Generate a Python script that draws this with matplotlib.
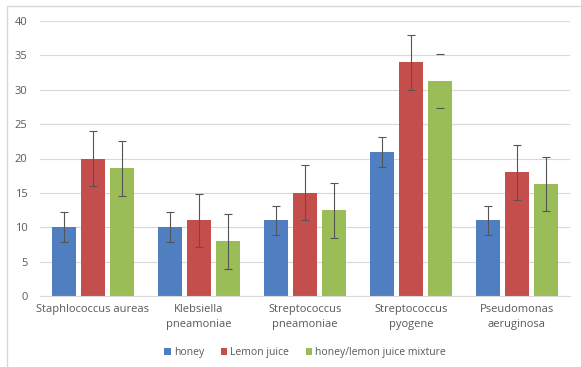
import matplotlib.pyplot as plt
import matplotlib.patches as mpatches
import numpy as np

# Données
bacteries = ['Staphlococcus aureas', 'Klebsiella\npneamoniae', 'Streptococcus\npneamoniae',
             'Streptococcus\npyogene', 'Pseudomonas\naeruginosa']
honey = [10, 10, 11, 21, 11]
honey_err = [2.2, 2.2, 2.1, 2.2, 2.1]
lemon = [20, 11, 15, 34, 18]
lemon_err = [4, 3.9, 4, 4, 4]
mixture = [18.6, 8, 12.5, 31.3, 16.3]
mixture_err = [4, 4, 4, 3.9, 3.9]
series_names = ['honey', 'Lemon juice', 'honey/lemon juice mixture']

couleurs = ['#4F7FC0', '#C44E4C', '#9BBD58']
gris = '#595959'

plt.rcParams['font.family'] = ['Open Sans', 'DejaVu Sans']

fig = plt.figure(figsize=(5.81, 3.67), dpi=100)
ax = fig.add_axes([40 / 581, 1 - 296 / 367, 530 / 581, 275 / 367])

# Cadre gris clair autour du graphique
fig.patches.append(mpatches.Rectangle((7 / 581, -0.05), 1.0, 1 - 6 / 367 + 0.05,
                                      transform=fig.transFigure, fill=False,
                                      edgecolor='#D9D9D9', linewidth=1))

x = np.arange(len(bacteries))
largeur = 0.226
pas = 0.278
donnees = [(honey, honey_err), (lemon, lemon_err), (mixture, mixture_err)]
for i, (vals, errs) in enumerate(donnees):
    pos = x + (i - 1) * pas
    ax.bar(pos, vals, largeur, color=couleurs[i], label=series_names[i], zorder=2)
    eb = ax.errorbar(pos, vals, yerr=errs, fmt='none', ecolor='#555555',
                     elinewidth=0.8, capsize=3, capthick=0.8, zorder=3)
    if i == 2:
        # la barre d'erreur de S. pyogene (mélange) n'a que ses extrémités
        cols = [(0.33, 0.33, 0.33, 1)] * len(vals)
        cols[3] = (0, 0, 0, 0)
        eb[2][0].set_colors(cols)

ax.set_xlim(-0.5, len(bacteries) - 0.5)
ax.set_ylim(0, 40)
ax.set_yticks(range(0, 41, 5))
ax.set_xticks(x)
ax.set_xticklabels(bacteries, color=gris, fontsize=8, linespacing=1.4)
ax.tick_params(axis='y', colors=gris, labelsize=8, length=0, pad=9)
ax.tick_params(axis='x', length=0, pad=6)
ax.grid(axis='y', color='#D9D9D9', linewidth=0.8, zorder=0)
for s in ['top', 'right', 'left']:
    ax.spines[s].set_visible(False)
ax.spines['bottom'].set_color('#D9D9D9')

ax.legend(loc='center', bbox_to_anchor=(0.5, -0.205), ncol=3, frameon=False,
          fontsize=7.5, labelcolor=gris, handlelength=0.6, handleheight=0.6,
          handletextpad=0.3, columnspacing=1.6)

plt.savefig('out.png', dpi=100)
